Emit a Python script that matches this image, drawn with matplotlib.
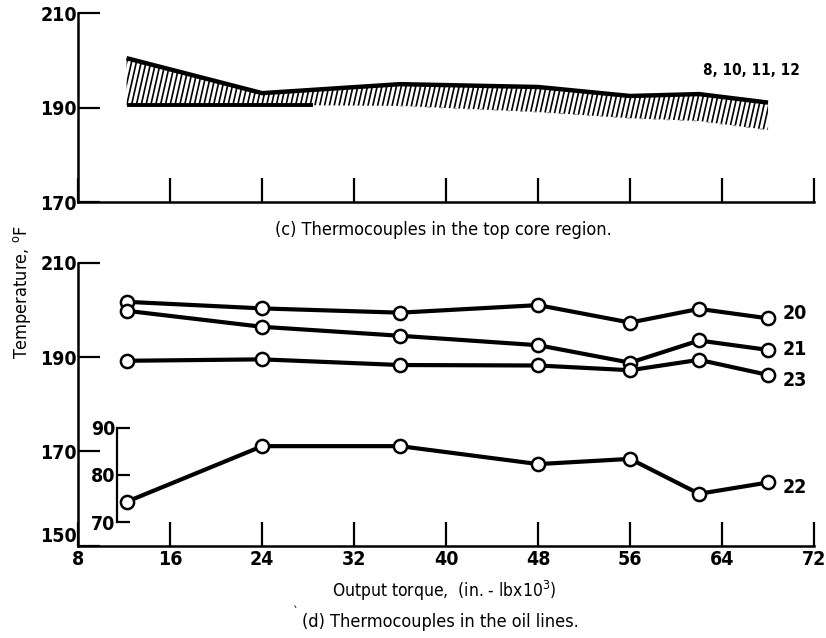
import matplotlib
matplotlib.use("Agg")
import matplotlib.pyplot as plt
import numpy as np
from matplotlib.collections import LineCollection

# ---- data -------------------------------------------------------------
torque = [12.2, 24, 36, 48, 56, 62, 68]          # in.-lb x 10^3

# (c) top core region: band covering thermocouples 8, 10, 11, 12
core_upper = [200.5, 193.1, 195.0, 194.4, 192.5, 192.9, 191.1]
core_lower = [190.6, 190.6, 190.4, 189.1, 187.8, 187.2, 185.3]
core_lower_solid_x = [12.2, 28.4]
core_lower_solid_y = [190.6, 190.6]
core_label = "8, 10, 11, 12"

# (d) oil lines
tc20 = [201.7, 200.3, 199.4, 201.0, 197.3, 200.2, 198.2]
tc21 = [199.8, 196.4, 194.5, 192.5, 188.8, 193.5, 191.5]
tc23 = [189.2, 189.5, 188.3, 188.2, 187.2, 189.4, 186.2]
tc22 = [74.3, 86.1, 86.1, 82.3, 83.4, 76.0, 78.4]   # read on the inset scale
series_names = ["20", "21", "23"]

x_ticks = [8, 16, 24, 32, 40, 48, 56, 64, 72]
top_yticks = [170, 190, 210]
bottom_yticks = [150, 170, 190, 210]
inset_yticks = [70, 80, 90]

# ---- styling ------------------------------------------------------------
plt.rcParams["font.family"] = ["DejaVu Sans"]
plt.rcParams["font.stretch"] = "condensed"
plt.rcParams["mathtext.fontset"] = "dejavusans"

TICK_FS = 14
NUM_WEIGHT = "bold"
LW = 3.0
MS = 9.5

fig = plt.figure(figsize=(8.26, 6.38), dpi=100)

left, width = 0.0948, 0.8907
ax1 = fig.add_axes([left, 0.6829, width, 0.2963])
ax2 = fig.add_axes([left, 0.1447, width, 0.4436])


def style_axis(ax, yticks, ylim, xlabels):
    ax.set_xlim(8, 72)
    ax.set_ylim(*ylim)
    for s in ("top", "right"):
        ax.spines[s].set_visible(False)
    for s in ("left", "bottom"):
        ax.spines[s].set_linewidth(1.8)
    ax.set_xticks(x_ticks)
    ax.set_yticks(yticks)
    ax.tick_params(axis="x", direction="in", length=17, width=1.6,
                   labelsize=TICK_FS, pad=3, labelbottom=xlabels)
    ax.tick_params(axis="y", direction="in", length=15.5, width=1.6,
                   labelsize=TICK_FS, pad=1)
    for lab in ax.get_xticklabels() + ax.get_yticklabels():
        lab.set_fontweight(NUM_WEIGHT)
    ax.patch.set_alpha(0)


style_axis(ax1, top_yticks, (170, 210), False)
style_axis(ax2, bottom_yticks, (150, 210), True)
# lowest y label of the lower panel sits just above the corner
ax2.get_yticklabels()[0].set_va("bottom")

# ---- (c) hatched band ----------------------------------------------------
band = ax1.fill_between(torque, core_lower, core_upper, facecolor="none",
                        edgecolor="none", linewidth=0)
# steep diagonal hatching, clipped to the band outline
hatch_x0 = np.arange(6.0, 72.0, 0.42)
hatch_segs = [[(x, 178.0), (x + 2.6, 206.0)] for x in hatch_x0]
hatch = LineCollection(hatch_segs, colors="black", linewidths=1.2)
ax1.add_collection(hatch)
hatch.set_clip_path(band.get_paths()[0], ax1.transData)

ax1.plot(torque, core_upper, color="black", lw=3.2, solid_capstyle="butt")
ax1.plot(core_lower_solid_x, core_lower_solid_y, color="black", lw=2.8,
         solid_capstyle="butt")
ax1.plot(torque[2:], core_lower[2:], color="0.6", lw=0.8,
         linestyle=(0, (3, 9)))
ax1.text(62.3, 197.8, core_label, fontsize=11, fontweight=NUM_WEIGHT,
         va="center", ha="left")

# ---- (d) oil-line thermocouples ------------------------------------------
mk = dict(marker="o", markersize=MS, markerfacecolor="white",
          markeredgecolor="black", markeredgewidth=1.8, color="black", lw=LW)
for vals in (tc20, tc21, tc23):
    ax2.plot(torque, vals, **mk)

label_y = [199.3, 191.5, 185.1]
for name, y in zip(series_names, label_y):
    ax2.text(69.3, y, name, fontsize=TICK_FS, fontweight=NUM_WEIGHT,
             va="center", ha="left")

# inset scale for thermocouple 22
ax3 = fig.add_axes(ax2.get_position(), sharex=ax2)
ax3.patch.set_alpha(0)
ax3.set_ylim(65, 125)
for s in ("top", "right", "bottom"):
    ax3.spines[s].set_visible(False)
ax3.spines["left"].set_position(("data", 11.35))
ax3.spines["left"].set_bounds(70, 90)
ax3.spines["left"].set_linewidth(1.6)
ax3.set_yticks(inset_yticks)
ax3.tick_params(axis="y", direction="in", length=9.5, width=1.6,
                labelsize=TICK_FS, pad=1)
for lab in ax3.get_yticklabels():
    lab.set_fontweight(NUM_WEIGHT)
ax3.xaxis.set_visible(False)
ax3.plot(torque, tc22, **mk)
ax3.text(69.3, 77.4, "22", fontsize=TICK_FS, fontweight=NUM_WEIGHT,
         va="center", ha="left")

# ---- captions -------------------------------------------------------------
W, H = 826, 638
fig.text(275 / W, 1 - 230 / H, "(c) Thermocouples in the top core region.",
         ha="left", va="center", fontsize=13)
fig.text(332 / W, 1 - 591 / H, r"Output torque,  (in. - lbx10$^{3}$)",
         ha="left", va="center", fontsize=12.5)
fig.text(302 / W, 1 - 622 / H, "(d) Thermocouples in the oil lines.",
         ha="left", va="center", fontsize=13)
fig.text(295 / W, 1 - 613 / H, "`", ha="center", va="center", fontsize=9)
fig.text(22 / W, 1 - 292 / H, r"Temperature, $^{\mathrm{o}}$F",
         rotation=90, ha="center", va="center", fontsize=13)

fig.savefig("out.png", dpi=100)
